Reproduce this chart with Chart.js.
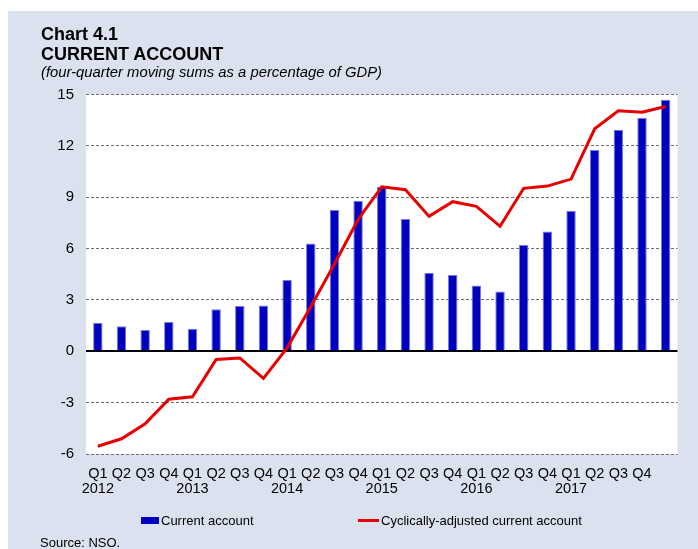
<!DOCTYPE html>
<html>
<head>
<meta charset="utf-8">
<script src="https://cdn.jsdelivr.net/npm/chart.js@4"></script>
<style>
  html, body { margin: 0; padding: 0; background: #fff; }
  body { width: 698px; height: 549px; position: relative; overflow: hidden; font-family: "Liberation Sans", Arial, sans-serif; }
  .panel { position: absolute; left: 8px; top: 11px; right: 0; bottom: 0; background: #dbe1ee; }
  #chart { position: absolute; left: 0; top: 0; }
  .title { position: absolute; left: 41px; top: 23.7px; font-size: 18px; font-weight: bold; line-height: 20.7px; color: #000; }
  .subtitle { position: absolute; left: 41px; top: 64px; font-size: 14.8px; font-style: italic; line-height: 17px; color: #000; }
  .legend { position: absolute; top: 513px; font-size: 13px; line-height: 16px; color: #000; }
  .legend .swatch { display: inline-block; vertical-align: middle; margin-right: 2px; }
  .source { position: absolute; left: 40px; top: 535px; font-size: 13px; line-height: 16px; color: #000; }
</style>
</head>
<body>
<div class="panel"></div>
<canvas id="chart" width="698" height="549"></canvas>
<div class="title">Chart 4.1<br>CURRENT ACCOUNT</div>
<div class="subtitle">(four-quarter moving sums as a percentage of GDP)</div>
<div class="legend" style="left:141px"><span class="swatch" style="width:18px;height:7px;background:#0000bf;margin-top:-2px"></span>Current account</div>
<div class="legend" style="left:358px"><span class="swatch" style="width:21px;height:3px;background:#e80000;margin-top:-2px"></span>Cyclically-adjusted current account</div>
<div class="source">Source: NSO.</div>

<script>
const quarters = [
  ['Q1', '2012'], ['Q2', ''], ['Q3', ''], ['Q4', ''],
  ['Q1', '2013'], ['Q2', ''], ['Q3', ''], ['Q4', ''],
  ['Q1', '2014'], ['Q2', ''], ['Q3', ''], ['Q4', ''],
  ['Q1', '2015'], ['Q2', ''], ['Q3', ''], ['Q4', ''],
  ['Q1', '2016'], ['Q2', ''], ['Q3', ''], ['Q4', ''],
  ['Q1', '2017'], ['Q2', ''], ['Q3', ''], ['Q4', ''],
  ['', '']
];

const currentAccount = [
  1.66, 1.46, 1.25, 1.71,
  1.31, 2.45, 2.65, 2.67,
  4.17, 6.29, 8.25, 8.80,
  9.61, 7.73, 4.59, 4.46,
  3.84, 3.49, 6.21, 6.99,
  8.21, 11.76, 12.94, 13.64,
  14.69
];

const cyclicallyAdjusted = [
  -5.55, -5.11, -4.24, -2.80,
  -2.66, -0.48, -0.39, -1.58,
  0.20, 2.60, 5.10, 7.70,
  9.61, 9.44, 7.88, 8.74,
  8.47, 7.30, 9.52, 9.65,
  10.06, 13.00, 14.05, 13.97,
  14.30
];

const yTicks = { min: -6, max: 15, step: 3 };

// white plot background behind the bars
const plotBackground = {
  id: 'plotBackground',
  beforeDraw(chart) {
    const { ctx, chartArea: a } = chart;
    ctx.save();
    ctx.fillStyle = '#ffffff';
    ctx.fillRect(a.left, a.top, a.right - a.left, a.bottom - a.top);
    ctx.restore();
  }
};

new Chart(document.getElementById('chart'), {
  type: 'bar',
  data: {
    labels: quarters,
    datasets: [
      {
        type: 'line',
        label: 'Cyclically-adjusted current account',
        data: cyclicallyAdjusted,
        borderColor: '#e80000',
        borderWidth: 3,
        pointRadius: 0,
        tension: 0,
        order: 0
      },
      {
        label: 'Current account',
        data: currentAccount,
        backgroundColor: '#0000bf',
        borderColor: '#7a7ae6',
        borderWidth: { top: 1, left: 1, right: 1, bottom: 0 },
        borderSkipped: false,
        categoryPercentage: 1,
        barPercentage: 0.4,
        order: 1
      }
    ]
  },
  options: {
    responsive: false,
    animation: false,
    devicePixelRatio: 1,
    layout: { padding: { left: 0, right: 20.5, top: 94.5, bottom: 45 } },
    plugins: {
      legend: { display: false },
      tooltip: { enabled: false }
    },
    scales: {
      x: {
        grid: { display: false, drawTicks: false },
        border: { display: false },
        ticks: {
          autoSkip: false,
          maxRotation: 0,
          minRotation: 0,
          padding: 12,
          color: '#000',
          font: { family: 'Liberation Sans', size: 14.5, lineHeight: 1.06 }
        },
        afterFit(scale) { scale.height = 50; }
      },
      y: {
        min: yTicks.min,
        max: yTicks.max,
        grid: {
          drawTicks: false,
          color: (c) => (c.tick && c.tick.value === 0 ? '#000' : '#6e6e6e'),
          lineWidth: (c) => (c.tick && c.tick.value === 0 ? 2 : 1)
        },
        border: {
          display: false,
          dash: (c) => (c.tick && c.tick.value === 0 ? [] : [3, 2])
        },
        ticks: {
          stepSize: yTicks.step,
          padding: 12,
          color: '#000',
          font: { family: 'Liberation Sans', size: 15 }
        },
        afterFit(scale) { scale.width = 86; }
      }
    }
  },
  plugins: [plotBackground]
});
</script>
</body>
</html>
